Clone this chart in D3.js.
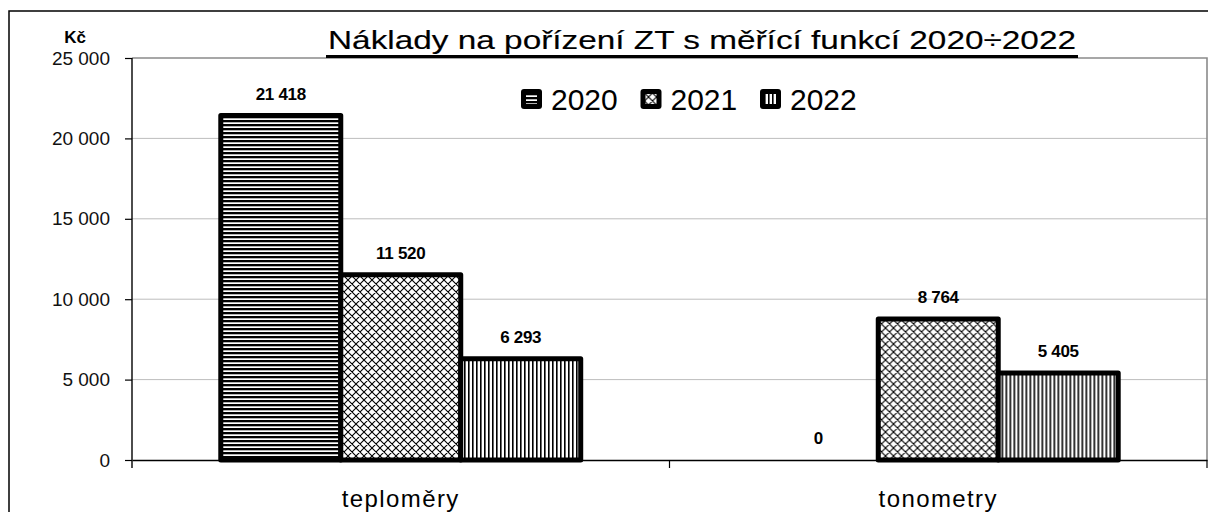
<!DOCTYPE html>
<html>
<head>
<meta charset="utf-8">
<script src="https://cdn.jsdelivr.net/npm/d3@7"></script>
<style>
	body { margin:0; background:#fff; }
	svg { display:block; font-family:"Liberation Sans", Arial, sans-serif; }
</style>
</head>
<body>
<div class="c_chart"></div>
<script>
/*DATA
------------------------------------------------------
*/
const categories = ["teploměry", "tonometry"];
const years = ["2020", "2021", "2022"];
const values2020 = [21418, 0];
const values2021 = [11520, 8764];
const values2022 = [6293, 5405];
const yTicks = [0, 5000, 10000, 15000, 20000, 25000];
const title = "Náklady na pořízení ZT s měřící funkcí 2020÷2022";
const unit = "Kč";

const series = [values2020, values2021, values2022];

/*SVG, FORMAT
------------------------------------------------------
*/
const width = 1208;
const height = 512;
const plot = {left:132, right:1207, top:58, bottom:460};

let svg = d3.select(".c_chart")
	.append("svg")
	.attr("width", width)
	.attr("height", height);

//format cz : mezera jako oddělovač tisíců
const cz = d3.formatLocale({decimal:",", thousands:"\u00a0", grouping:[3], currency:["", " Kč"]});
const fmt = cz.format(",d");

/*PATTERNS
------------------------------------------------------
*/
let defs = svg.append("defs");

let p0 = defs.append("pattern")
	.attr("id", "p2020")
	.attr("patternUnits", "userSpaceOnUse")
	.attr("width", 4).attr("height", 4);
p0.append("rect").attr("width", 4).attr("height", 4).attr("fill", "#fff");
p0.append("rect").attr("width", 4).attr("height", 2.3).attr("fill", "#000");

let p1 = defs.append("pattern")
	.attr("id", "p2021")
	.attr("patternUnits", "userSpaceOnUse")
	.attr("width", 8).attr("height", 8);
p1.append("rect").attr("width", 8).attr("height", 8).attr("fill", "#fff");
p1.append("path")
	.attr("d", "M0,0L8,8M8,0L0,8M-1,7L1,9M7,-1L9,1M-1,1L1,-1M7,9L9,7")
	.attr("stroke", "#000")
	.attr("stroke-width", 1.1);

let p2 = defs.append("pattern")
	.attr("id", "p2022")
	.attr("patternUnits", "userSpaceOnUse")
	.attr("width", 4).attr("height", 4);
p2.append("rect").attr("width", 4).attr("height", 4).attr("fill", "#fff");
p2.append("rect").attr("width", 1.6).attr("height", 4).attr("fill", "#000");

const fills = ["url(#p2020)", "url(#p2021)", "url(#p2022)"];

/*SCALES
------------------------------------------------------
*/
let y = d3.scaleLinear()
	.domain([0, 25000])
	.range([plot.bottom, plot.top]);

let x0 = d3.scaleBand()
	.domain(categories)
	.range([plot.left, plot.right]);

let x1 = d3.scaleBand()
	.domain(years)
	.range([0, x0.bandwidth()])
	.paddingOuter(0.74);

//outer frame
svg.append("rect")
	.attr("x", 9).attr("y", 11)
	.attr("width", 1300).attr("height", 600)
	.attr("fill", "none")
	.attr("stroke", "#000")
	.attr("stroke-width", 1.5);

//grid
svg.append("g")
	.selectAll("line")
	.data(yTicks.filter(d => d > 0 && d < 25000))
	.enter()
	.append("line")
	.attr("x1", plot.left).attr("x2", plot.right)
	.attr("y1", d => y(d)).attr("y2", d => y(d))
	.attr("stroke", "#bdbdbd")
	.attr("stroke-width", 1);

//plot border (top + right)
svg.append("path")
	.attr("d", `M${plot.left},${y(25000)}H${plot.right}V${plot.bottom}`)
	.attr("fill", "none")
	.attr("stroke", "#8a8a8a")
	.attr("stroke-width", 1.6);

/*AXES
------------------------------------------------------
*/
let yAxis = svg.append("g")
	.attr("transform", `translate(${plot.left},0)`)
	.call(d3.axisLeft(y).tickValues(yTicks).tickSize(7).tickPadding(15).tickFormat(fmt));
yAxis.select(".domain").remove();
yAxis.selectAll(".tick line").attr("stroke", "#000").attr("stroke-width", 1.2);
yAxis.selectAll(".tick text")
	.attr("font-size", 19)
	.attr("font-family", "Liberation Sans, Arial, sans-serif")
	.attr("fill", "#111");

svg.append("line")
	.attr("x1", plot.left).attr("x2", plot.left)
	.attr("y1", y(25000)).attr("y2", plot.bottom + 8)
	.attr("stroke", "#000").attr("stroke-width", 1.4);

//x axis
let xAxis = svg.append("g")
	.attr("transform", `translate(0,${plot.bottom})`)
	.call(d3.axisBottom(x0).tickSize(0).tickPadding(30));
xAxis.select(".domain").attr("stroke", "#000").attr("stroke-width", 1.6);
xAxis.selectAll(".tick text")
	.attr("font-size", 24)
	.attr("letter-spacing", 1.4)
	.attr("font-family", "Liberation Sans, Arial, sans-serif")
	.attr("fill", "#000");

//ticks between categories
svg.append("g")
	.selectAll("line")
	.data(categories.slice(1).concat(["end"]))
	.enter()
	.append("line")
	.attr("x1", d => d === "end" ? plot.right : x0(d))
	.attr("x2", d => d === "end" ? plot.right : x0(d))
	.attr("y1", plot.bottom).attr("y2", plot.bottom + 8)
	.attr("stroke", "#000").attr("stroke-width", 1.2);

/*BARS
------------------------------------------------------
*/
let groups = svg.selectAll(".grp")
	.data(categories)
	.enter()
	.append("g")
	.attr("class", "grp")
	.attr("transform", d => `translate(${x0(d)},0)`);

groups.selectAll("rect")
	.data((c, ci) => years.map((yr, si) => ({yr:yr, si:si, v:series[si][ci]})).filter(d => d.v > 0))
	.enter()
	.append("rect")
	.attr("x", d => x1(d.yr))
	.attr("width", x1.bandwidth())
	.attr("y", d => y(d.v))
	.attr("height", d => y(0) - y(d.v))
	.attr("fill", d => fills[d.si])
	.attr("stroke", "#000")
	.attr("stroke-width", 5)
	.attr("stroke-linejoin", "round");

groups.selectAll("text")
	.data((c, ci) => years.map((yr, si) => ({yr:yr, si:si, v:series[si][ci]})))
	.enter()
	.append("text")
	.attr("x", d => x1(d.yr) + x1.bandwidth() / 2)
	.attr("y", d => y(d.v) - 16)
	.attr("text-anchor", "middle")
	.attr("font-size", 17)
	.attr("font-weight", "bold")
	.attr("letter-spacing", -0.3)
	.text(d => fmt(d.v));

/*TITLE, UNIT, LEGEND
------------------------------------------------------
*/
svg.append("text")
	.attr("x", 328)
	.attr("y", 49)
	.attr("font-size", 26)
	.attr("textLength", 748)
	.attr("lengthAdjust", "spacingAndGlyphs")
	.attr("stroke", "#000")
	.attr("stroke-width", 0.15)
	.text(title);

svg.append("rect")
	.attr("x", 326).attr("y", 55)
	.attr("width", 752).attr("height", 3)
	.attr("fill", "#000");

svg.append("text")
	.attr("x", 75)
	.attr("y", 43)
	.attr("text-anchor", "middle")
	.attr("font-size", 17)
	.attr("font-weight", "bold")
	.text(unit);

let legend = svg.append("g")
	.selectAll("g")
	.data(years)
	.enter()
	.append("g")
	.attr("transform", (d, i) => `translate(${521 + i * 119.5},89)`);

legend.append("rect")
	.attr("width", 21).attr("height", 20)
	.attr("rx", 3)
	.attr("fill", "#000");
legend.append("rect")
	.attr("x", 5).attr("y", 5)
	.attr("width", 11).attr("height", 10)
	.attr("fill", (d, i) => fills[i]);

legend.append("text")
	.attr("x", 30)
	.attr("y", 21)
	.attr("font-size", 30)
	.text(d => d);
</script>
</body>
</html>
